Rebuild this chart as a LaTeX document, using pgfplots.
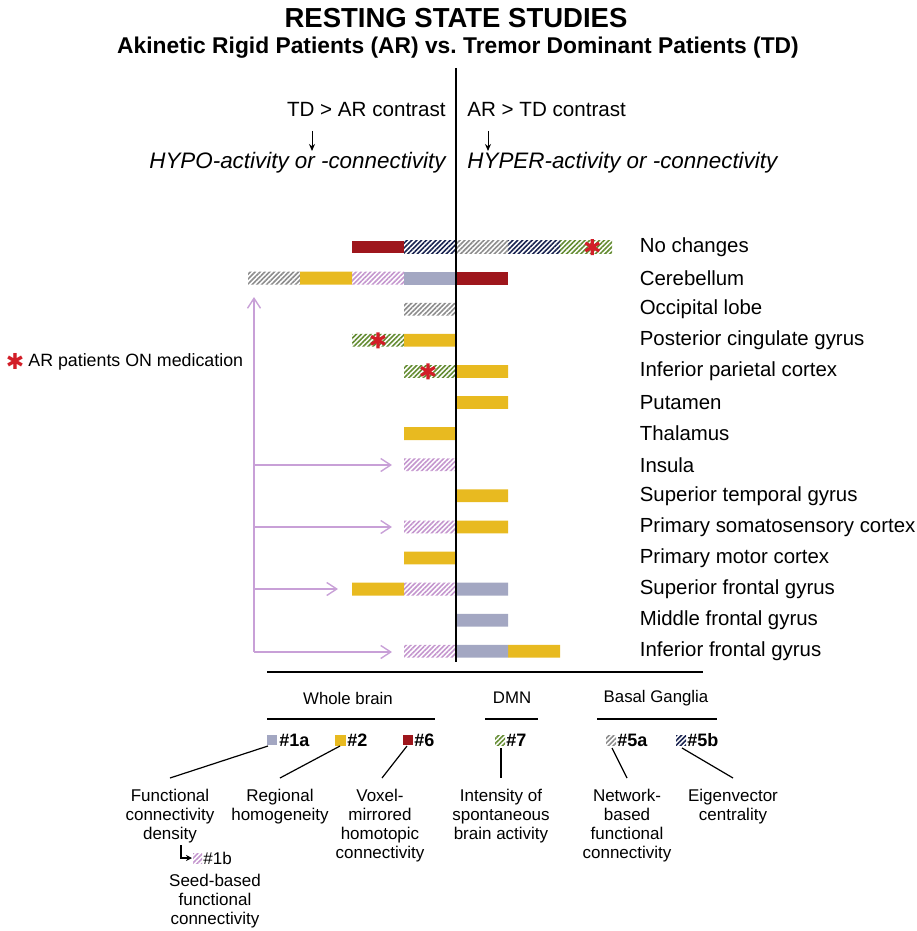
\documentclass[border=0pt]{standalone}
\usepackage{fontspec}
\setmainfont{Liberation Sans}
\newfontfamily\djv{DejaVu Sans}
\usepackage{pgfplots}
\pgfplotsset{compat=1.18}
\usepackage{pgfplotstable}
\usetikzlibrary{patterns.meta,arrows.meta}

\definecolor{cOneA}{RGB}{163,167,194}
\definecolor{cOneB}{RGB}{196,150,206}
\definecolor{cTwo}{RGB}{232,186,32}
\definecolor{cFiveA}{RGB}{140,140,140}
\definecolor{cFiveB}{RGB}{25,35,80}
\definecolor{cSix}{RGB}{158,22,28}
\definecolor{cSeven}{RGB}{100,140,50}
\definecolor{arrowpink}{RGB}{200,160,215}
\definecolor{starred}{RGB}{210,30,40}

\tikzset{hatch/.style={pattern={Lines[angle=45,distance=1.7pt,line width=0.8pt]},pattern color=#1}}

% number of studies per region, TD > AR side (negative) and AR > TD side (positive)
\pgfplotstableread{
row onea oneb two fivea fiveb six seven
1   0  0  0  0 -1 -1  0
2  -1 -1 -1 -1  0  0  0
3   0  0  0 -1  0  0  0
4   0  0 -1  0  0  0 -1
5   0  0  0  0  0  0 -1
6   0  0  0  0  0  0  0
7   0  0 -1  0  0  0  0
8   0 -1  0  0  0  0  0
9   0  0  0  0  0  0  0
10  0 -1  0  0  0  0  0
11  0  0 -1  0  0  0  0
12  0 -1 -1  0  0  0  0
13  0  0  0  0  0  0  0
14  0 -1  0  0  0  0  0
}\lefttab
\pgfplotstableread{
row onea oneb two fivea fiveb six seven
1   0  0  0  1  1  0  1
2   0  0  0  0  0  1  0
3   0  0  0  0  0  0  0
4   0  0  0  0  0  0  0
5   0  0  1  0  0  0  0
6   0  0  1  0  0  0  0
7   0  0  0  0  0  0  0
8   0  0  0  0  0  0  0
9   0  0  1  0  0  0  0
10  0  0  1  0  0  0  0
11  0  0  0  0  0  0  0
12  1  0  0  0  0  0  0
13  1  0  0  0  0  0  0
14  1  0  1  0  0  0  0
}\righttab

\pgfplotsset{studyaxis/.style={
  scale only axis, width=197.6pt, height=217.7pt,
  at={(118.8pt,-115.725pt)}, anchor=north west,
  xmin=-4.2, xmax=3.4, ymin=0.5, ymax=14.5, y dir=reverse,
  axis line style={draw=none}, tick style={draw=none},
  xtick=\empty, ytick=\empty,
}}

\begin{document}
\begin{tikzpicture}
\useasboundingbox (0,0) rectangle (458pt,-465.5pt);

\begin{axis}[studyaxis, xbar stacked, bar width=6.4pt,
  ytick={1,...,14}, yticklabel pos=right,
  yticklabel style={font=\fontsize{10.2}{12}\selectfont},
  yticklabels={No changes,Cerebellum,Occipital lobe,Posterior cingulate gyrus,
    Inferior parietal cortex,Putamen,Thalamus,Insula,Superior temporal gyrus,
    Primary somatosensory cortex,Primary motor cortex,Superior frontal gyrus,
    Middle frontal gyrus,Inferior frontal gyrus}]
  \addplot[draw=none, fill=cOneA] table[x=onea,y=row]{\lefttab};
  \addplot[draw=none, hatch=cOneB] table[x=oneb,y=row]{\lefttab};
  \addplot[draw=none, fill=cTwo] table[x=two,y=row]{\lefttab};
  \addplot[draw=none, hatch=cFiveA] table[x=fivea,y=row]{\lefttab};
  \addplot[draw=none, hatch=cFiveB] table[x=fiveb,y=row]{\lefttab};
  \addplot[draw=none, fill=cSix] table[x=six,y=row]{\lefttab};
  \addplot[draw=none, hatch=cSeven] table[x=seven,y=row]{\lefttab};
\end{axis}

\begin{axis}[studyaxis, xbar stacked, bar width=6.4pt]
  \addplot[draw=none, fill=cOneA] table[x=onea,y=row]{\righttab};
  \addplot[draw=none, hatch=cOneB] table[x=oneb,y=row]{\righttab};
  \addplot[draw=none, fill=cTwo] table[x=two,y=row]{\righttab};
  \addplot[draw=none, hatch=cFiveA] table[x=fivea,y=row]{\righttab};
  \addplot[draw=none, hatch=cFiveB] table[x=fiveb,y=row]{\righttab};
  \addplot[draw=none, fill=cSix] table[x=six,y=row]{\righttab};
  \addplot[draw=none, hatch=cSeven] table[x=seven,y=row]{\righttab};
\end{axis}

% AR patients ON medication
\begin{axis}[studyaxis]
  \addplot[only marks, mark=asterisk, mark size=4pt, color=starred, line width=1.6pt]
    coordinates {(-1.5,4) (-0.54,5) (2.62,1)};
\end{axis}

\begin{scope}[x=0.5pt,y=-0.5pt]
  \node[font=\bfseries\fontsize{13.75}{16}\selectfont] at (456,18) {RESTING STATE STUDIES};
  \node[font=\bfseries\fontsize{11.4}{14}\selectfont] at (458,48)
    {Akinetic Rigid Patients (AR) vs.\ Tremor Dominant Patients (TD)};
  \draw[line width=1.2pt] (456,68) -- (456,662);

  \node[anchor=east, inner sep=0, font=\fontsize{10.3}{12}\selectfont] at (446,110) {TD > AR contrast};
  \node[anchor=west, inner sep=0, font=\fontsize{10.3}{12}\selectfont] at (467,110) {AR > TD contrast};
  \draw[line width=0.5pt, -{Stealth[length=3.5pt,width=3pt]}] (312,131) -- (312,151);
  \draw[line width=0.5pt, -{Stealth[length=3.5pt,width=3pt]}] (488,131) -- (488,151);
  \node[anchor=east, inner sep=0, font=\itshape\fontsize{11.2}{13}\selectfont] at (446,163) {HYPO-activity or -connectivity};
  \node[anchor=west, inner sep=0, font=\itshape\fontsize{11.2}{13}\selectfont] at (467,163) {HYPER-activity or -connectivity};

  \node[text=starred, inner sep=0, font=\djv\fontsize{11}{12}\selectfont] at (15,361) {✱};
  \node[anchor=west, inner sep=0, font=\fontsize{8.9}{11}\selectfont] at (28,362) {AR patients ON medication};

  \begin{scope}[arrowpink, line width=0.7pt]
    \draw[-{Straight Barb[length=5pt,width=6.5pt]}] (254,652) -- (254,297);
    \foreach \yy/\xe in {465/392,527/392,589/338,652/392}
      \draw[-{Straight Barb[length=5pt,width=6.5pt]}] (254,\yy) -- (\xe,\yy);
  \end{scope}

  \draw[line width=0.7pt] (267,672) -- (703,672);
  \node[font=\fontsize{8.4}{10}\selectfont] at (348,698) {Whole brain};
  \node[font=\fontsize{8.4}{10}\selectfont] at (512,698) {DMN};
  \node[font=\fontsize{8.4}{10}\selectfont] at (656,698) {Basal Ganglia};
  \draw[line width=0.7pt] (267,719) -- (435,719);
  \draw[line width=0.7pt] (485,719) -- (538,719);
  \draw[line width=0.7pt] (597,719) -- (717,719);

  \fill[cOneA] (267,735) rectangle (277,745);
  \fill[cTwo] (335,734.5) rectangle (346,745.5);
  \fill[cSix] (403,735) rectangle (413,745);
  \path[hatch=cSeven] (495,735) rectangle (505,745);
  \path[hatch=cFiveA] (606,735) rectangle (616,745);
  \path[hatch=cFiveB] (676,735) rectangle (686,745);
  \begin{scope}[every node/.style={anchor=west, inner sep=0, font=\bfseries\fontsize{9}{11}\selectfont}]
    \node at (279,740) {\#1a};
    \node at (347,740) {\#2};
    \node at (414,740) {\#6};
    \node at (506,740) {\#7};
    \node at (617,740) {\#5a};
    \node at (687,740) {\#5b};
  \end{scope}

  \begin{scope}[line width=0.6pt]
    \draw (268,746) -- (170,778);
    \draw (340,746) -- (280,778);
    \draw (407,746) -- (382,778);
    \draw (501,748) -- (501,778);
    \draw (612,748) -- (627,778);
    \draw (682,748) -- (733,778);
  \end{scope}

  \begin{scope}[every node/.style={anchor=north, inner sep=0, align=center, font=\fontsize{8.5}{9.5}\selectfont}]
    \node at (170,789) {Functional\\connectivity\\density};
    \node at (280,789) {Regional\\homogeneity};
    \node at (380,789) {Voxel-\\mirrored\\homotopic\\connectivity};
    \node at (501,789) {Intensity of\\spontaneous\\brain activity};
    \node at (627,789) {Network-\\based\\functional\\connectivity};
    \node at (733,789) {Eigenvector\\centrality};
    \node at (215,874) {Seed-based\\functional\\connectivity};
  \end{scope}
  \draw[line width=0.6pt, -{Stealth[length=3pt,width=3pt]}] (181,845) -- (181,858) -- (192,858);
  \path[hatch=cOneB] (193,853) rectangle (202,863);
  \node[anchor=west, inner sep=0, font=\fontsize{8.5}{10}\selectfont] at (203,858) {\#1b};
\end{scope}
\end{tikzpicture}
\end{document}
